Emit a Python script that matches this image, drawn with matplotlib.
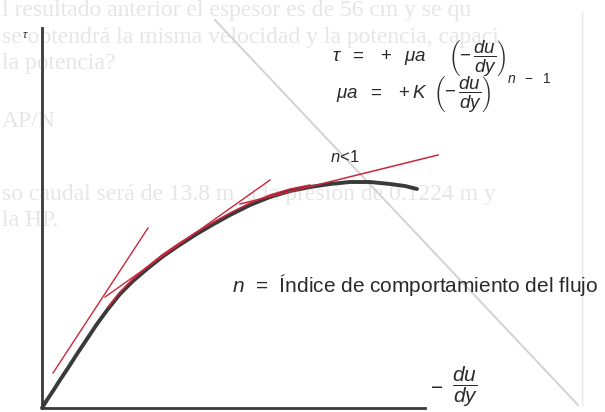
import matplotlib
matplotlib.use("Agg")
import matplotlib.pyplot as plt

plt.rcParams['font.family'] = ['Liberation Sans', 'DejaVu Sans']
plt.rcParams['mathtext.fontset'] = 'custom'
plt.rcParams['mathtext.rm'] = 'Liberation Sans'
plt.rcParams['mathtext.it'] = 'Liberation Sans:italic'
plt.rcParams['mathtext.bf'] = 'Liberation Sans:bold'

# flow curve, shear stress vs shear rate (arbitrary units)
rate = [0, 0.5, 1.1, 1.8, 2.6, 3.5, 4.5, 5.5, 6.6, 7.8, 9.1, 10.5, 12.0,
        13.6, 15.3, 17.0, 18.8, 20.8, 22.8, 24.8, 26.8, 28.8, 30.8, 32.8,
        34.8, 36.3, 37.5]
stress = [0, 0.8, 1.7, 2.8, 4.0, 5.4, 6.9, 8.4, 9.9, 11.4, 12.7, 13.9, 15.1,
          16.2, 17.3, 18.3, 19.3, 20.3, 21.1, 21.7, 22.1, 22.4, 22.6, 22.6,
          22.4, 22.2, 21.9]

# tangents (apparent viscosity at three points)
tan_a_x = [1.1, 10.6]
tan_a_y = [3.5, 18.0]
tan_b_x = [6.3, 22.8]
tan_b_y = [11.1, 22.8]
tan_c_x = [19.8, 39.6]
tan_c_y = [20.4, 25.3]

# show-through from the back of the page
back_lines = [
    (-4.0, 39.7, "l resultado anterior el espesor es de 56 cm y se qu"),
    (-4.0, 37.0, "se obtendrá la misma velocidad y la potencia, capaci"),
    (-4.0, 34.4, "la potencia?"),
    (-4.0, 28.6, "AP/N"),
    (-4.0, 21.3, "so caudal será de 13.8 m  a la presión de 0.1224 m y"),
    (-4.0, 18.7, "la HP."),
]

fig = plt.figure(figsize=(6.05, 4.12), dpi=100)
ax = fig.add_axes([0, 0, 1, 1])
ax.set_xlim(-4.2, 56.3)
ax.set_ylim(-0.4, 40.8)

for x, y, s in back_lines:
    ax.text(x, y, s, fontsize=17, color='#e6e6e6', family='Liberation Serif',
            va='center', ha='left', zorder=0)
ax.plot([17.3, 53.6], [38.8, 0.3], color='#d2d2d2', lw=1.4, zorder=0)
ax.plot([54.0, 54.0], [0.3, 39.5], color='#e6e6e6', lw=1.0, zorder=0)

# axes drawn through the origin
for side in ['top', 'right']:
    ax.spines[side].set_visible(False)
ax.spines['left'].set_position(('data', 0))
ax.spines['bottom'].set_position(('data', 0))
ax.spines['left'].set_bounds(0, 38.0)
ax.spines['bottom'].set_bounds(0, 38.3)
for side in ['left', 'bottom']:
    ax.spines[side].set_color('#3a3a3a')
    ax.spines[side].set_linewidth(2.0)
ax.set_xticks([])
ax.set_yticks([])

ax.plot(rate, stress, color='#3a3a3a', lw=2.8, solid_capstyle='round',
        solid_joinstyle='round', zorder=2)

red = '#c8283c'
mid = [i for i, r in enumerate(rate) if 6.6 <= r <= 26.8]
ax.plot([rate[i] for i in mid], [stress[i] + 0.2 for i in mid],
        color=red, lw=1.1, solid_joinstyle='round', zorder=3)
ax.plot(tan_a_x, tan_a_y, color=red, lw=1.0, zorder=3)
ax.plot(tan_b_x, tan_b_y, color=red, lw=1.0, zorder=3)
ax.plot(tan_c_x, tan_c_y, color=red, lw=1.1, zorder=3)

ink = '#2a2a2a'
eq = dict(fontsize=13.5, color=ink, ha='left', va='center')
frac = r'$\left(-\,\dfrac{du}{dy}\right)$'

ax.text(-1.7, 37.3, r'$\tau$', fontsize=8, color=ink, ha='center', va='center')

# tau = mu_a (-du/dy)
ax.text(29.0, 35.0, r'$\tau\ \ =\ \ +\ \ \mu a$', **eq)
ax.text(40.6, 35.0, frac, **eq)
# mu_a = K (-du/dy)^(n-1)
ax.text(29.4, 31.4, r'$\mu a\ \ =\ \ +K$', **eq)
ax.text(39.1, 31.4, frac, **eq)
ax.text(46.5, 32.9, r'$n\ \ -\ \ 1$', fontsize=10, color=ink,
        ha='left', va='center')

ax.text(28.8, 25.1, r'$n\!<\!1$', fontsize=12, color=ink, ha='left', va='center')
ax.text(19.0, 12.3, r'$n$  =  Índice de comportamiento del flujo',
        fontsize=15, color=ink, ha='left', va='center')

# shear-rate axis label
ax.text(38.8, 2.1, r'$-$', fontsize=15, color=ink, ha='left', va='center')
ax.text(42.3, 2.1, r'$\dfrac{du}{dy}$', fontsize=15, color=ink,
        ha='center', va='center')

fig.savefig('out.png', dpi=100)
